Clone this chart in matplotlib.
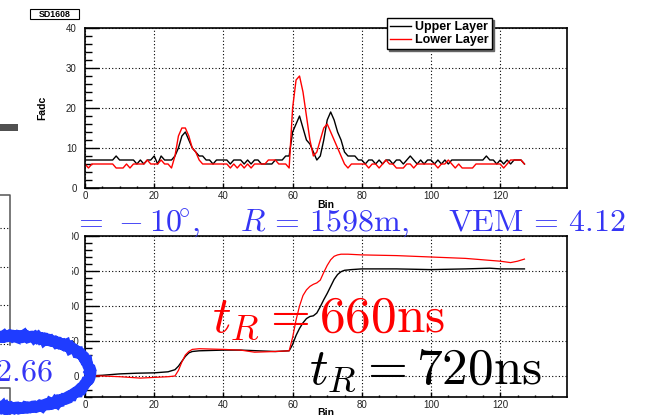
import numpy as np
import matplotlib
matplotlib.use('Agg')
import matplotlib.pyplot as plt
from matplotlib.patches import Rectangle, Ellipse
from matplotlib.ticker import MultipleLocator

plt.rcParams['font.family'] = ['Liberation Sans', 'DejaVu Sans']
plt.rcParams['mathtext.fontset'] = 'cm'

# FADC traces per bin, SD1608
upper = [7, 7, 7, 7, 7, 7, 7, 7, 7, 8,
         7, 7, 7, 7, 7, 6, 7, 6, 7, 7,
         8, 6, 8, 7, 7, 7, 8, 10, 13, 14,
         12, 10, 9, 8, 8, 7, 7, 6, 7, 7,
         7, 7, 6, 7, 7, 7, 6, 7, 6, 7,
         7, 6, 6, 6, 6, 7, 7, 7, 8, 8,
         14, 16, 18, 15, 12, 11, 9, 7, 8, 12,
         17, 19, 17, 14, 12, 9, 8, 8, 8, 7,
         7, 6, 7, 7, 6, 7, 6, 7, 7, 6,
         7, 7, 6, 7, 8, 7, 6, 7, 6, 7,
         7, 6, 7, 6, 7, 6, 7, 7, 7, 7,
         7, 7, 7, 7, 7, 7, 8, 7, 7, 6,
         7, 6, 7, 6, 7, 7, 7, 6]
lower = [6, 5, 6, 6, 6, 6, 6, 6, 6, 5,
         5, 5, 6, 5, 6, 6, 6, 6, 7, 6,
         6, 6, 7, 6, 6, 5, 8, 13, 15, 15,
         13, 10, 9, 7, 6, 6, 6, 6, 6, 6,
         6, 6, 5, 6, 5, 6, 5, 6, 5, 6,
         6, 6, 6, 7, 7, 7, 6, 6, 6, 5,
         20, 27, 28, 24, 18, 12, 8, 9, 12, 15,
         16, 14, 12, 10, 8, 6, 5, 6, 6, 6,
         6, 6, 5, 6, 6, 5, 6, 7, 6, 6,
         5, 5, 5, 6, 6, 5, 6, 6, 6, 6,
         6, 6, 5, 6, 6, 7, 6, 5, 6, 5,
         5, 5, 5, 6, 6, 6, 6, 6, 6, 6,
         6, 5, 6, 7, 7, 7, 7, 6]

# integrated signal (lower pad)
int_upper_bins = [0, 5, 10, 15, 20, 24, 26, 27, 28, 29, 30, 31, 33, 40, 45, 50, 55, 59,
                  60, 61, 62, 63, 64, 65, 66, 67, 68, 69, 70, 71, 72, 73, 74, 75, 77,
                  80, 90, 100, 110, 117, 120, 127]
int_upper = [0, 1, 3, 4, 4.5, 6, 9, 14, 21, 28, 33, 35, 36, 37, 37, 36, 35, 36,
             45, 58, 68, 76, 82, 85, 86, 90, 99, 109, 118, 128, 138, 145, 149, 151, 152,
             153, 153, 152, 153, 154, 153, 153]
int_lower_bins = [0, 5, 10, 16, 20, 24, 26, 27, 28, 29, 30, 31, 33, 40, 45, 49, 55, 59,
                  60, 61, 62, 63, 64, 65, 66, 67, 68, 69, 70, 71, 72, 73, 74, 76,
                  80, 90, 100, 110, 115, 120, 123, 125, 127]
int_lower = [0, 0, -1, -3, -2, -1, 0, 8, 20, 30, 35, 38, 39, 38, 37, 34, 35, 36,
             55, 80, 100, 115, 123, 128, 131, 133, 137, 148, 158, 166, 171, 173, 174, 174,
             173, 172, 170, 168, 166, 164, 162, 164, 167]

W, H = 648, 415
fig = plt.figure(figsize=(W / 100, H / 100), dpi=100)


def rect(x0, y0, x1, y1):
    return [x0 / W, 1 - y1 / H, (x1 - x0) / W, (y1 - y0) / H]


def root_style(ax, ymajor, yminor, ypad):
    ax.set_xlim(0, 139.3)
    ax.xaxis.set_major_locator(MultipleLocator(20))
    ax.xaxis.set_minor_locator(MultipleLocator(5))
    ax.yaxis.set_major_locator(MultipleLocator(ymajor))
    ax.yaxis.set_minor_locator(MultipleLocator(yminor))
    ax.tick_params(which='both', direction='in', top=False, right=False,
                   labelsize=7, labelcolor='#222222', width=1)
    ax.tick_params(axis='y', which='major', length=10, pad=ypad)
    ax.tick_params(axis='y', which='minor', length=5)
    ax.tick_params(axis='x', which='major', length=3.6, pad=2.5)
    ax.tick_params(axis='x', which='minor', length=1.8)
    ax.grid(True, which='major', linestyle=(0, (1, 2)), color='black', linewidth=0.8)
    for s in ax.spines.values():
        s.set_linewidth(1.2)
    ax.set_xlabel('Bin', fontsize=7.5, fontweight='bold')


bins = np.arange(len(upper))

ax1 = fig.add_axes(rect(85, 28, 567, 188))
ax1.plot(bins, upper, color='black', lw=1.0, label='Upper Layer')
ax1.plot(bins, lower, color='red', lw=1.0, label='Lower Layer')
ax1.set_ylim(0, 40)
root_style(ax1, 10, 2, 6)
ax1.set_ylabel('Fadc', fontsize=7.5, fontweight='bold')
ax1.yaxis.set_label_coords(-0.079, 0.5)
ax1.xaxis.set_label_coords(0.5, -0.075)

leg = ax1.legend(loc='upper left', bbox_to_anchor=(386.7 / W, 1 - 18.3 / H),
                 bbox_transform=fig.transFigure,
                 prop={'weight': 'bold', 'size': 9}, frameon=True, fancybox=False,
                 edgecolor='black', framealpha=1, borderpad=0.25, labelspacing=0.05,
                 handlelength=1.7, handletextpad=0.35, borderaxespad=0,
                 shadow={'ox': 1.5, 'oy': -1.5, 'color': '#666666', 'alpha': 1})
leg.get_frame().set_linewidth(1)

ax2 = fig.add_axes(rect(85, 236, 567, 397))
ax2.plot(int_upper_bins, int_upper, color='black', lw=1.0)
ax2.plot(int_lower_bins, int_lower, color='red', lw=0.9)
ax2.set_ylim(-30, 200)
root_style(ax2, 50, 10, 4)
ax2.xaxis.set_label_coords(0.5, -0.07)

# overlay in pixel coordinates
ov = fig.add_axes([0, 0, 1, 1], zorder=10)
ov.set_xlim(0, W)
ov.set_ylim(H, 0)
ov.axis('off')

blue = '#3535f5'
ov.text(200, 230.7, r'$\theta\,=\,-10\!^{\circ},$', color=blue, fontsize=23,
        ha='right', va='baseline', zorder=2)
ov.text(240, 230.7, r'$R\,=\,1598\mathrm{m},$', color=blue, fontsize=23,
        ha='left', va='baseline', zorder=2)
ov.text(625, 230.7, r'$\mathrm{VEM}\,=\,4.12$', color=blue, fontsize=23,
        ha='right', va='baseline', zorder=2)

# the neighbouring pad on the left hides part of this one
ov.add_patch(Rectangle((11, 204), 70, 22, facecolor='white', edgecolor='none', zorder=3))
ov.add_patch(Rectangle((11, 226), 61, 168, facecolor='white', edgecolor='none', zorder=3))
ov.add_patch(Rectangle((0, 124), 18, 7, facecolor='#505050', edgecolor='none', zorder=4))
ov.plot([0, 10, 10], [195, 195, 345], color='#555555', lw=1.1, zorder=4)
ov.plot([0, 10, 10], [388, 388, 415], color='#555555', lw=1.1, zorder=4)
for yy in [228, 267, 305, 344]:
    ov.plot([0, 10], [yy, yy], color='black', lw=0.8, ls=(0, (1, 2)), zorder=4)

ov.add_patch(Rectangle((30, 9), 49, 10, facecolor='white', edgecolor='black', lw=0.8))
ov.text(54.5, 14.5, 'SD1608', fontsize=6.3, fontweight='bold', ha='center', va='center')

ov.text(445, 331, r'$t_R = 660\mathrm{ns}$', color='red', fontsize=37,
        ha='right', va='baseline', zorder=5)
ov.text(541.7, 383, r'$t_R = 720\mathrm{ns}$', color='black', fontsize=37,
        ha='right', va='baseline', zorder=5)

for w, h, lw in [(150, 72, 8), (145, 78, 3.5), (155, 67, 3.5)]:
    ell = Ellipse((15, 372), w, h, fill=False, edgecolor='#1f3cff', lw=lw, zorder=6)
    ell.set_sketch_params(scale=0.8, length=4, randomness=6)
    ov.add_patch(ell)
ov.text(53, 380, r'$52.66$', color=blue, fontsize=23, ha='right', va='baseline',
        zorder=7)

fig.savefig('out.png', dpi=100)
